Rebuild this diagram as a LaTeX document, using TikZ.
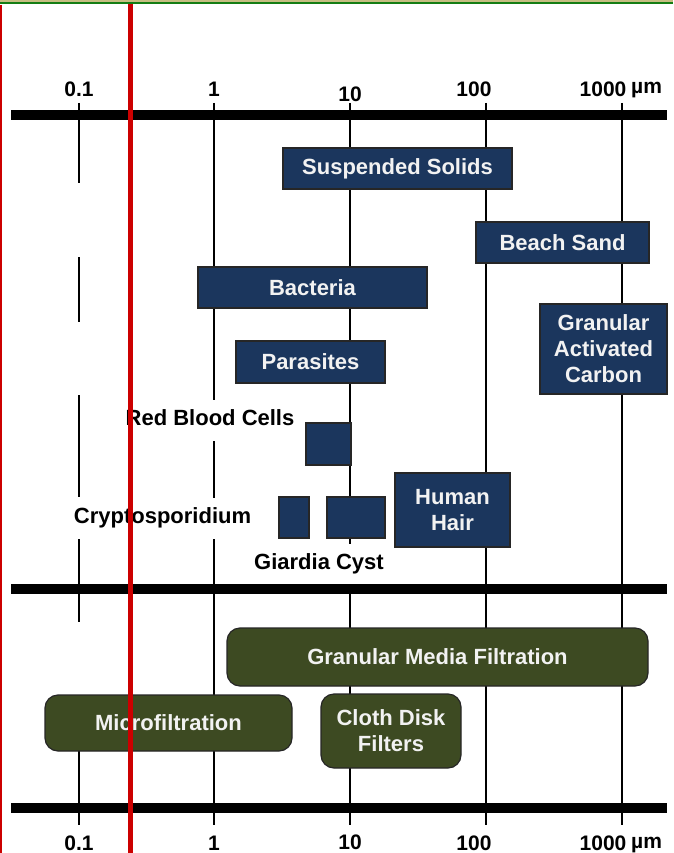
\documentclass[tikz,border=0pt]{standalone}
\usepackage{fontspec}
\setmainfont{Liberation Sans}
\definecolor{boxblue}{RGB}{27,54,93}
\definecolor{boxgreen}{RGB}{61,74,34}
\definecolor{boxtext}{RGB}{242,242,242}
\definecolor{redline}{RGB}{204,0,0}
\definecolor{topgreen}{RGB}{20,125,20}
\definecolor{toptan}{RGB}{198,190,130}
\newcommand{\mylbl}{\bfseries\fontsize{22}{26}\selectfont}
\newcommand{\mytick}{\bfseries\fontsize{21}{24}\selectfont}
\begin{document}
\begin{tikzpicture}[x=1pt,y=-1pt,
  gridline/.style={line width=2pt, black},
  bar/.style={line width=10pt, black},
  bbox/.style={draw=black!85, line width=1.2pt, fill=boxblue, text=boxtext,
    font=\mylbl, inner sep=0pt, align=center},
  gbox/.style={bbox, fill=boxgreen, rounded corners=13pt},
  lab/.style={fill=white, font=\mylbl, text height=16pt, text depth=5pt,
    inner xsep=6pt, inner ysep=10pt},
  ticklab/.style={font=\mytick, anchor=base, inner sep=0pt}]
\useasboundingbox (0,0) rectangle (673,853);
\fill[white] (0,0) rectangle (673,853);
% top border
\fill[toptan] (0,0) rectangle (673,2.5);
\draw[topgreen, line width=2pt] (0,3.5) -- (673,3.5);
% grid lines
\draw[gridline] (79,103) -- (79,183);
\draw[gridline] (79,257) -- (79,322);
\draw[gridline] (79,395) -- (79,497);
\draw[gridline] (79,538) -- (79,622);
\draw[gridline] (79,751) -- (79,825);
\draw[gridline] (214,103) -- (214,825);
\draw[gridline] (350,103) -- (350,825);
\draw[gridline] (486,103) -- (486,825);
\draw[gridline] (622,103) -- (622,825);
% horizontal bars
\draw[bar] (11,115) -- (667,115);
\draw[bar] (11,588.5) -- (667,588.5);
\draw[bar] (11,808) -- (667,808);
% tick labels top
\node[ticklab] (t01) at (79,97) {0.1};
\node[ticklab] (t1) at (214,97) {1};
\node[ticklab] (t10) at (350,101.5) {10};
\node[ticklab] (t100) at (474,96.5) {100};
\node[ticklab] (t1000) at (603,96.5) {1000};
\node[ticklab, anchor=base west] (tum) at (631,94) {µm};
% tick labels bottom
\node[ticklab] (b01) at (79,850) {0.1};
\node[ticklab] (b1) at (214,850) {1};
\node[ticklab] (b10) at (350,849.5) {10};
\node[ticklab] (b100) at (474,850) {100};
\node[ticklab] (b1000) at (603,850) {1000};
\node[ticklab, anchor=base west] (bum) at (631,848) {µm};
% blue boxes
\node[bbox, minimum width=229pt, minimum height=41pt] (ss) at (397.5,168.5) {Suspended Solids};
\node[bbox, minimum width=173pt, minimum height=41pt] (beach) at (562.5,242.5) {Beach Sand};
\node[bbox, minimum width=229pt, minimum height=41pt] (bact) at (312.5,287.5) {Bacteria};
\node[bbox, minimum width=149pt, minimum height=42pt] (para) at (310.5,362) {Parasites};
\node[bbox, minimum width=127pt, minimum height=90pt] (gac) at (603.5,349) {Granular\\Activated\\Carbon};
\node[bbox, minimum width=45pt, minimum height=42pt] (rbc) at (328.5,444) {};
\node[bbox, minimum width=30pt, minimum height=41pt] (crypto) at (294,517.5) {};
\node[bbox, minimum width=58pt, minimum height=41pt] (giardia) at (356,517.5) {};
\node[bbox, minimum width=115pt, minimum height=74pt] (hair) at (452.5,510) {Human\\Hair};
% labels
\node[lab] (rbclab) at (210,420) {Red Blood Cells};
\node[lab] (cryptolab) at (162.5,518) {Cryptosporidium};
\node[lab, inner ysep=9.5pt] (giardialab) at (319,563.5) {Giardia Cyst};
% green boxes
\node[gbox, minimum width=421pt, minimum height=58pt] (gmf) at (437.5,657) {Granular Media Filtration};
\node[gbox, minimum width=247pt, minimum height=56pt] (mf) at (168.5,723) {Microfiltration};
\node[gbox, minimum width=140pt, minimum height=74pt] (cdf) at (391,731) {Cloth Disk\\Filters};
% red lines
\draw[redline, line width=1.5pt] (0.75,5) -- (0.75,853);
\draw[redline, line width=5pt] (130,4.5) -- (130,853);
\end{tikzpicture}
\end{document}
